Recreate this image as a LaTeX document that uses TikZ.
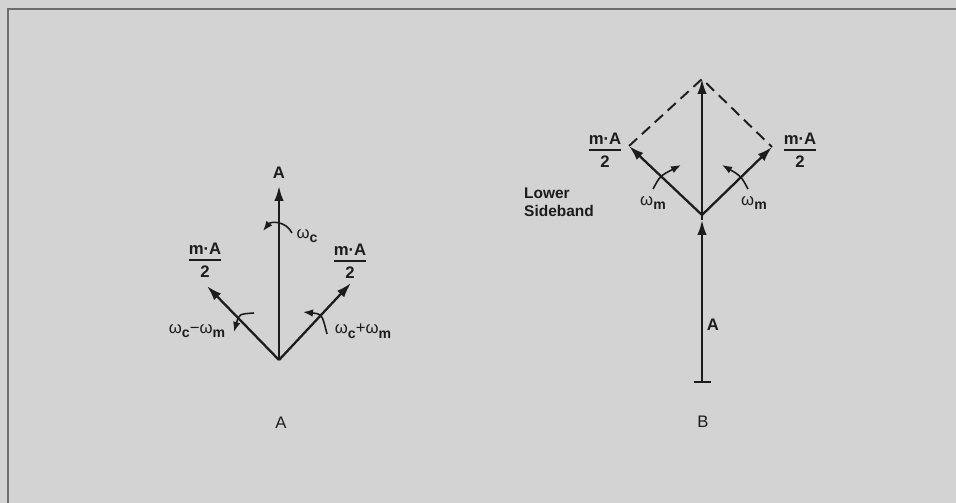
\documentclass[tikz,border=0pt]{standalone}
\usepackage{amsmath}
\usepackage{fontspec}
\setmainfont{Liberation Sans}
\usetikzlibrary{arrows.meta,calc}
\definecolor{paper}{HTML}{D3D3D3}
\definecolor{ink}{HTML}{1C1C1C}
\definecolor{rim}{HTML}{6E6E6E}
\newcommand{\wsub}[1]{ω\raisebox{-0.55ex}{\fontsize{8}{9}\selectfont\bfseries #1}}
\newcommand{\halfmA}{$\genfrac{}{}{0.9pt}{0}{\mbox{m·A}}{\mbox{2}}$}

\begin{document}
\begin{tikzpicture}[x=0.02cm,y=-0.02cm,>={Latex[length=3mm,width=1.9mm]},
  every node/.style={font=\fontsize{9.5}{11}\selectfont,text=ink},
  vec/.style={ink,line width=1.3pt},
  spin/.style={ink,line width=0.9pt,->,>={Latex[length=2mm,width=1.5mm]}},
  frac/.style={font=\fontsize{9.5}{11}\selectfont\bfseries}]
% paper and frame
\fill[paper] (0,0) rectangle (956,503);
\useasboundingbox (0,0) rectangle (956,503);
\draw[rim,line width=0.8pt] (956,9)--(8,9)--(8,503);
% --- A: carrier with two sidebands
\coordinate (oA) at (279,360);
\coordinate (tA) at (279,186);
\coordinate (lA) at (207,286);
\coordinate (rA) at (351,283);
\draw[vec,->] (oA)--(tA);
\draw[vec,->] (oA)--(lA);
\draw[vec,->] (oA)--(rA);
\node[font=\fontsize{9.5}{11}\selectfont\bfseries] (amp) at (279,173) {A};
\node[frac] (fl) at (205,260) {\halfmA};
\node[frac] (fr) at (350,261) {\halfmA};
\draw[spin] (292,233) .. controls (286,221) and (271,221) .. (263,231);
\node (wc) at (307,236) {\wsub{c}};
\draw[spin] (254,313) .. controls (239,314) .. (234,332);
\node (wdiff) at (197,331) {\wsub{c}−\wsub{m}};
\draw[spin] (327,334) .. controls (322,314) .. (303,312);
\node (wsum) at (363,331) {\wsub{c}+\wsub{m}};
\node (capA) at (281,423) {A};
% --- B: lower sideband sum
\coordinate (oB) at (702,215);
\coordinate (tB) at (702,79);
\coordinate (lB) at (629,146);
\coordinate (rB) at (772,147);
\coordinate (bB) at (702,383);
\coordinate (hB) at (702,220);
\draw[vec,{Bar[width=3.4mm]}->] (bB)--(hB);
\draw[vec] (hB)--(oB);
\draw[vec,->] (oB)--(tB);
\draw[vec,->] (oB)--(lB);
\draw[vec,->] (oB)--(rB);
\draw[ink,line width=1.1pt,dash pattern=on 2.2mm off 1.3mm] (lB)--(tB)--(rB);
\node[frac] (gl) at (605,150) {\halfmA};
\node[frac] (gr) at (800,150) {\halfmA};
\draw[spin] (653,189) .. controls (660,176) .. (681,165);
\draw[spin] (748,189) .. controls (741,176) .. (722,165);
\node (wml) at (653,203) {\wsub{m}};
\node (wmr) at (754,203) {\wsub{m}};
\node[align=left,font=\fontsize{8.8}{10.5}\selectfont\bfseries] (lsb) at (559,202) {Lower\\Sideband};
\node[font=\fontsize{9.5}{11}\selectfont\bfseries] (ampB) at (713,325) {A};
\node (capB) at (703,422) {B};
\end{tikzpicture}
\end{document}
